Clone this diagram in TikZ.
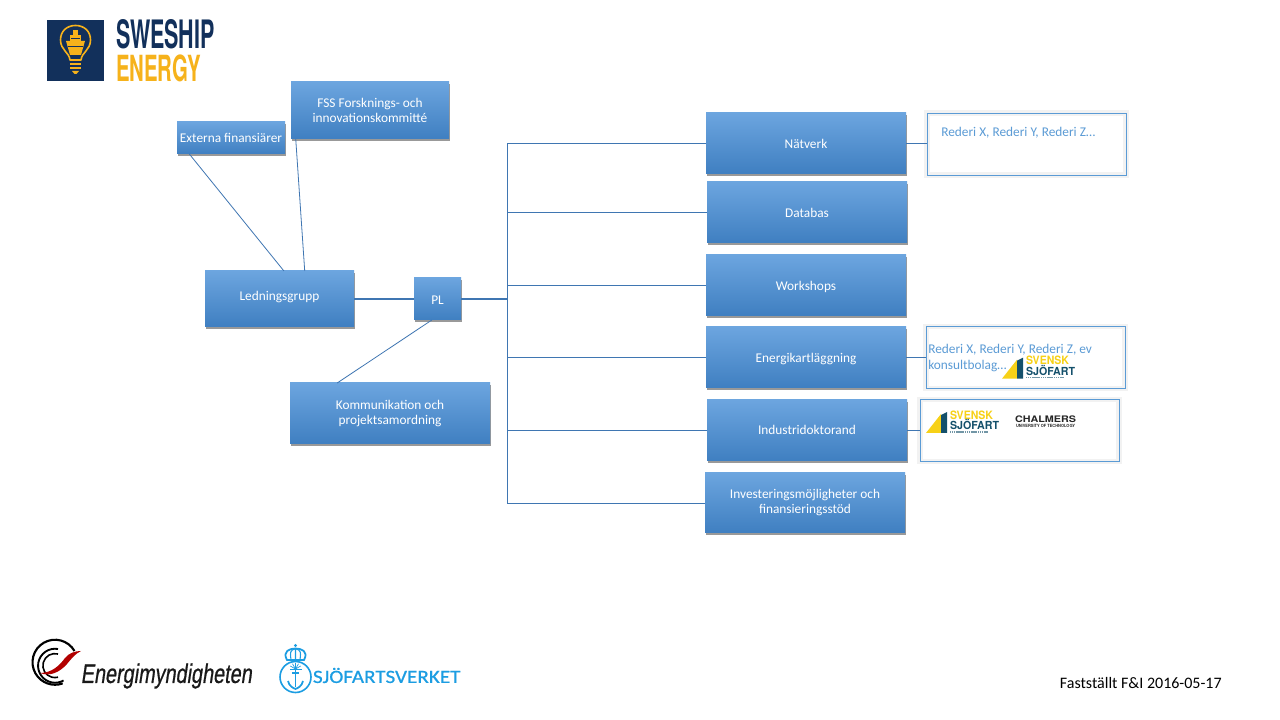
\documentclass[tikz,border=0pt]{standalone}
\usepackage{fontspec}
\setmainfont{Carlito}
\newfontfamily\heros{TeX Gyre Heros}
\newfontfamily\energfont[FakeSlant=.2,FakeBold=.8]{Liberation Sans}
\newfontfamily\sjofont[FakeBold=.7]{Carlito}
\usetikzlibrary{positioning,shadows}
\definecolor{boxtop}{HTML}{6CA5DF}
\definecolor{boxbot}{HTML}{3F7FC1}
\definecolor{wirec}{HTML}{3F76B2}
\definecolor{infoc}{HTML}{5B9BD5}
\definecolor{navy}{HTML}{12305B}
\definecolor{bulb}{HTML}{F6B21B}
\definecolor{svy}{HTML}{F7D117}
\definecolor{svt}{HTML}{14506B}
\definecolor{sjob}{HTML}{1C9DE2}
\newcommand{\fitw}[2]{\resizebox{#1pt}{!}{#2}}
\newcommand{\fitwh}[3]{\resizebox{#1pt}{#2pt}{#3}}
\tikzset{
	px size/.style 2 args={minimum width=#1*.75pt,minimum height=#2*.75pt},
	bluebox/.style={top color=boxtop,bottom color=boxbot,text=white,align=center,
		font=\fontsize{10}{11.25}\selectfont,inner sep=0pt,outer sep=0pt,
		drop shadow={shadow xshift=.8pt,shadow yshift=-1.7pt,fill=black,opacity=.4}},
	one line/.style={text height=10pt,text depth=#1},
	one line/.default=2pt,
	infobox/.style={draw=infoc,inner sep=0pt,outer sep=0pt,px size={199}{62},
		preaction={fill=white},preaction={draw=black!5,line width=4pt}},
	infotext/.style={text=infoc,font=\fontsize{10}{12}\selectfont,align=left,anchor=west,inner sep=0pt},
	wire/.style={draw=wirec,line width=.6pt},
	wire thick/.style={draw=wirec,line width=1.1pt},
	logoword/.style={inner sep=0pt,outer sep=0pt},
	svensk/.pic={
		\fill[svy] (0,0) -- (15,0) -- (15,19) -- cycle;
		\fill[svt] (15,0) -- (21,0) -- (21,21) -- (15,18) -- cycle;
		\node[logoword,anchor=south west,text=svy] (word1) at (24,13.7) {\heros\bfseries\fitwh{32.25}{6.4}{SVENSK}};
		\node[logoword,anchor=south west,text=svt] (word2) at (24,3) {\heros\bfseries\fitwh{36.75}{7.6}{SJÖFART}};
		\draw[svt!60,line width=.8pt,dash pattern=on 1pt off .4pt] (24,1) -- (62,1);
	}
}
\begin{document}
\begin{tikzpicture}[x=.75pt,y=.75pt,node distance=8 and 8]
\useasboundingbox (0,0) rectangle (1280,720);
\fill[white] (0,0) rectangle (1280,720);

\node[bluebox,px size={108}{32}] (Externa) at (231,582) {Externa finansiärer};
\node[bluebox,px size={158}{57}] (FSS) at (370,609.5) {FSS Forsknings- och\\innovationskommitté};
\node[bluebox,px size={149}{56},one line=7.3pt] (Ledning) at (279.5,421) {Ledningsgrupp};
\node[bluebox,px size={47}{42},one line] (PL) at (437.5,421) {PL};
\node[bluebox,px size={200}{61}] (Komm) at (390,306.5) {Kommunikation och\\projektsamordning};

\node[bluebox,px size={200}{61},one line] (Natverk) at (806,576.5) {Nätverk};
\node[bluebox,px size={200}{61},one line,below=8 of Natverk,xshift=.75pt] (Databas) {Databas};
\node[bluebox,px size={200}{61},one line,below=12 of Databas,xshift=-.75pt] (Workshops) {Workshops};
\node[bluebox,px size={200}{61},one line,below=11 of Workshops] (Energi) {Energikartläggning};
\node[bluebox,px size={200}{61},one line=4.3pt,below=12 of Energi,xshift=.75pt] (Industri) {Industridoktorand};
\node[bluebox,px size={200}{60},below=12 of Industri,xshift=-1.5pt] (Invest) {Investeringsmöjligheter och\\finansieringsstöd};

\node[infobox] (InfoA) at (1026.5,576) {};
\node[infobox] (InfoB) at (1025.5,362.5) {};
\node[infobox] (InfoC) at (1019.5,289.5) {};
\node[infotext] (InfoAtext) at (941,587.5) {Rederi X, Rederi Y, Rederi Z…};
\node[infotext] (InfoBtext) at (928,361.5) {Rederi X, Rederi Y, Rederi Z, ev\\konsultbolag…};

\coordinate (bus) at (507,421);
\draw[wire] (Externa.201) -- (Ledning.81);
\draw[wire] (FSS.201) -- (Ledning.48);
\draw[wire] (PL.255) -- (Komm.150);
\draw[wire thick] (Ledning) -- (PL);
\draw[wire thick] (PL) -- (bus);
\foreach \n in {Natverk,Databas,Workshops,Energi,Industri,Invest}
	\draw[wire,yshift=-.4pt] (bus) |- (\n.west);
\draw[wire] (Natverk.east) -- (InfoA.west |- Natverk.east);
\draw[wire] (Energi.east) -- (InfoB.west |- Energi.east);
\draw[wire] (Industri.east) -- (InfoC.west |- Industri.east);

\pic (SvenskA) at (1002,341.3) {svensk};
\pic (SvenskB) at (926,287) {svensk};
\node[logoword,anchor=south west,text=black!85] (Chalmers) at (1015,297.5) {\heros\bfseries\fitwh{45.75}{5}{CHALMERS}};
\node[logoword,anchor=south west,text=black!85] (Chalmersb) at (1016,292) {\heros\bfseries\fitwh{44.25}{2.4}{UNIVERSITY OF TECHNOLOGY}};

\node[inner sep=0pt,anchor=east,font=\fontsize{12}{14}\selectfont] (Datum) at (1222,37) {Fastställt F\&I 2016-05-17};

% logos, in picture pixels with y downwards
\begin{scope}[shift={(0,720)},yscale=-1]
	\fill[navy] (47,20) rectangle (104,81);
	\draw[bulb,line width=1.2pt,line join=round] (70,60) .. controls (69,52) and (60.5,50) .. (60.5,40)
		.. controls (60.5,31) and (67,25.5) .. (75.5,25.5) .. controls (84,25.5) and (90.5,31) .. (90.5,40)
		.. controls (90.5,50) and (82,52) .. (81,60) -- cycle;
	\draw[bulb,line width=1.2pt] (70,64) -- (81,64) (70,68) -- (81,68);
	\fill[bulb] (72,71) -- (79,71) -- (76.5,74) -- (74.5,74) -- cycle;
	\fill[bulb] (66,41) -- (85,41) -- (81,55) -- (70,55) -- cycle;
	\fill[bulb] (70,35) rectangle (81,41);
	\fill[bulb] (73,30) rectangle (78,35);
	\draw[navy,line width=.5pt] (68,46) -- (83,46) (71,38) -- (80,38);
	\node[logoword,anchor=south west,text=navy] (Sweship) at (116,49) {\heros\bfseries\fitwh{74}{21.75}{SWESHIP}};
	\node[logoword,anchor=south west,text=bulb] (Energy) at (116,81.5) {\heros\bfseries\fitwh{63.5}{20}{ENERGY}};

	\draw[black,line width=1.6pt] (74.5,651) arc[start angle=-30,end angle=-290,radius=22.5];
	\draw[black,line width=1.4pt] (58,649) arc[start angle=-80,end angle=-300,radius=17];
	\draw[black,line width=1.2pt] (58,654) arc[start angle=-75,end angle=-285,radius=12];
	\fill[red!70!black] (40,673) .. controls (52,673) and (60,665) .. (65,658)
		.. controls (69,653) and (75,651) .. (81,651) .. controls (75,654) and (72,658) .. (67,664)
		.. controls (60,672) and (50,677) .. (40,673) -- cycle;
	\node[logoword,anchor=west,text=black!90] (Energim) at (80.7,676) {\energfont\fitwh{128.25}{14.6}{Energimyndigheten}};

	\draw[sjob,line width=1.2pt] (295.5,677) circle[radius=15.5];
	\draw[sjob,line width=1.4pt] (295.5,670) -- (295.5,687);
	\draw[sjob,line width=1.3pt] (288,681) .. controls (289,686) and (293,688) .. (295.5,689)
		.. controls (298,688) and (302,686) .. (303,681);
	\draw[sjob,line width=1pt] (292,673) -- (299,673);
	\foreach \a in {0,30,...,180}
		\draw[sjob,line width=.5pt] (295.5,669) -- +(\a:-6);
	\draw[sjob,line width=1.3pt] (287,660) .. controls (282,651) and (290,648.5) .. (295.5,648.5)
		.. controls (301,648.5) and (309,651) .. (304,660) -- cycle;
	\draw[sjob,line width=.8pt] (295.5,648.5) -- (295.5,660)
		(295.5,648.5) .. controls (290,651) .. (291,660) (295.5,648.5) .. controls (301,651) .. (300,660);
	\fill[sjob] (295.5,645.5) circle[radius=1.6];
	\node[logoword,anchor=west,text=sjob] (Sjofarts) at (313,675.5) {\sjofont\fitwh{110.6}{11.25}{SJÖFARTSVERKET}};
\end{scope}
\end{tikzpicture}
\end{document}
